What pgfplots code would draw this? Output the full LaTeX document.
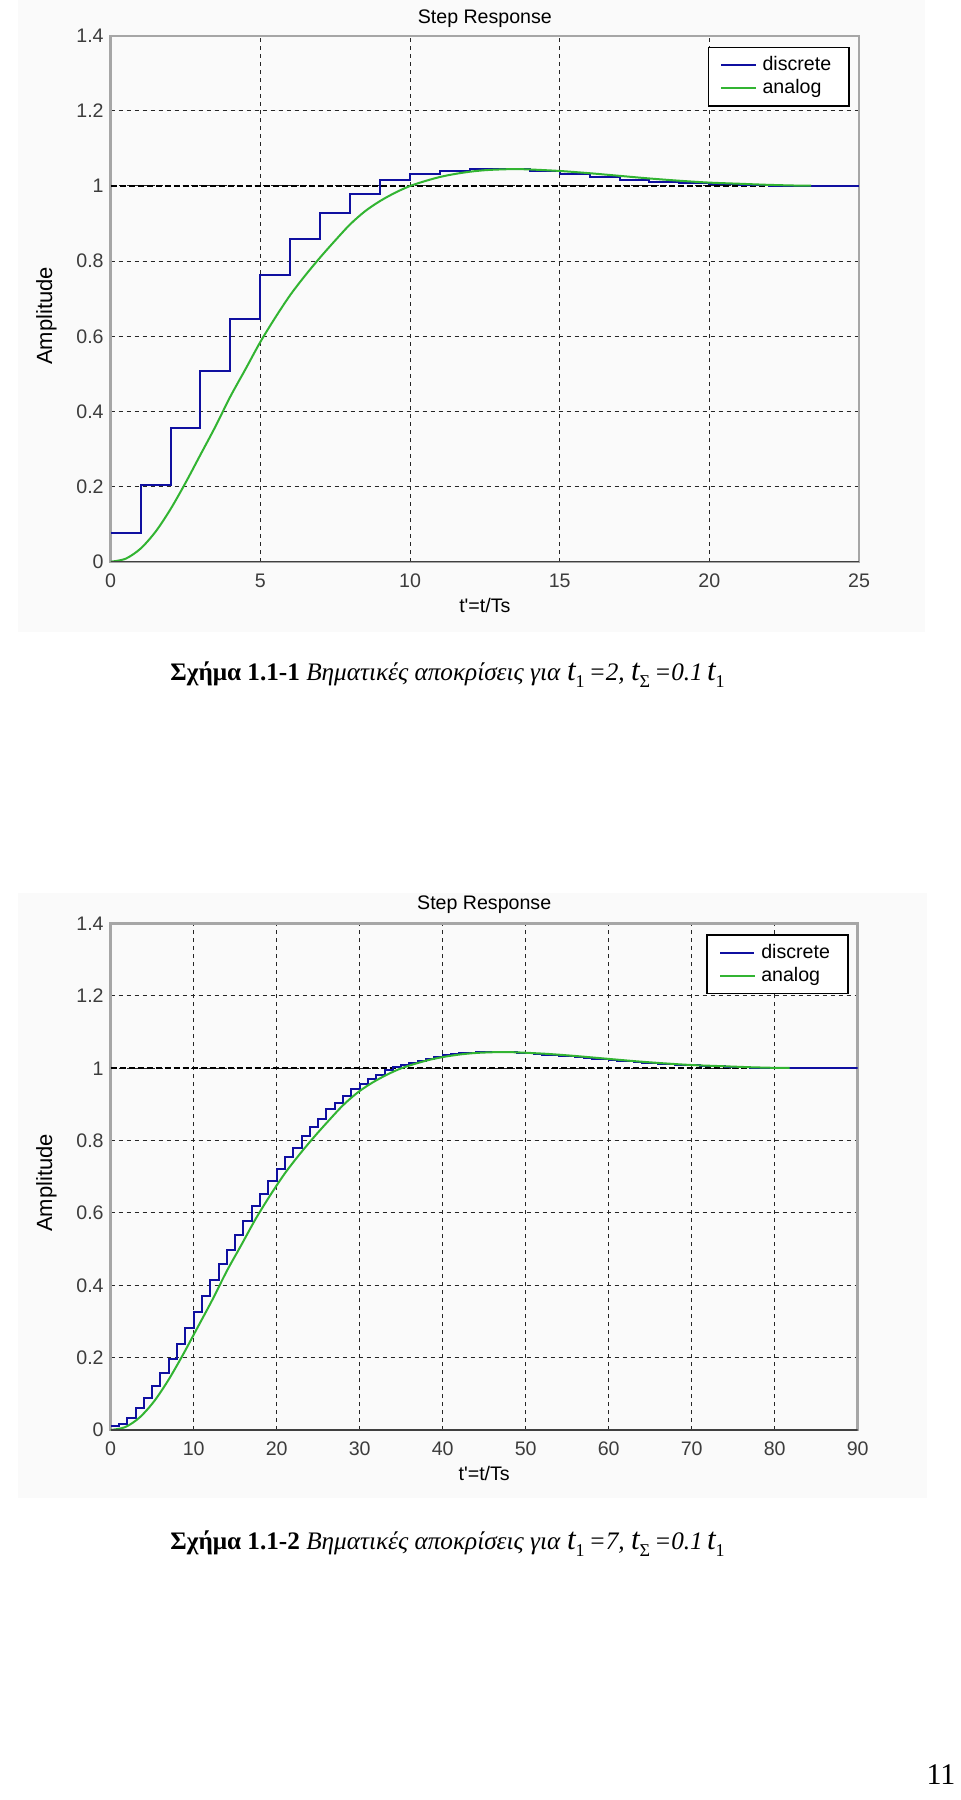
\documentclass[border=0pt]{standalone}
\usepackage{fontspec}
\setmainfont{Liberation Serif}
\newfontfamily\arial{Liberation Sans}
\usepackage{pgfplots}
\pgfplotsset{compat=1.18}
\definecolor{dblue}{RGB}{15,15,160}
\definecolor{agreen}{RGB}{50,180,50}
\definecolor{ticktext}{RGB}{60,60,60}
\newcommand{\tsub}[2]{{\fontsize{15.5}{16}\selectfont\itshape #1}\raisebox{-0.6ex}{\fontsize{9}{9}\selectfont #2}}
\pgfplotsset{
  stepstyle/.style={
    anchor=north west, scale only axis,
    font=\arial\fontsize{9.8}{11}\selectfont,
    every axis title shift=0pt,
    /pgf/number format/assume math mode=true,
    ymin=0, ymax=1.4, ytick={0,0.2,...,1.4},
    yticklabels={0,0.2,0.4,0.6,0.8,1,1.2,1.4},
    tick style={draw=none},
    ticklabel style={text=ticktext},
    xticklabel style={yshift=-2.5pt},
    grid=major,
    major grid style={black!85, line width=0.5pt, dash pattern=on 2pt off 2pt},
    axis line style={black!35, line width=1.2pt},
    xlabel={t'=t/Ts}, ylabel={Amplitude},
    ylabel style={font=\arial\fontsize{11}{12}\selectfont},
    legend style={at={(0.988,0.979)}, anchor=north east, draw=black, line width=0.8pt,
      font=\arial\fontsize{9.8}{11}\selectfont, row sep=-1pt, inner xsep=6pt, inner ysep=2.5pt,
      nodes={inner xsep=3pt}},
    legend cell align=left,
    legend image post style={line width=1pt},
  }
}
\begin{document}
\begin{tikzpicture}
\useasboundingbox (0,0) rectangle (480pt,-900pt);
\fill[black!2] (9pt,0pt) rectangle (462.5pt,-316pt);
\fill[black!2] (9pt,-446.5pt) rectangle (463.5pt,-749pt);
% ---------- top axis ----------
\begin{axis}[stepstyle,
  at={(55.35pt,-17.85pt)}, width=374.15pt, height=263pt,
  xmin=0, xmax=25, xtick={0,5,...,25},
  title={Step Response},
  title style={at={(axis description cs:0.5,1.032)}, anchor=center},
  xlabel style={at={(axis description cs:0.5,-0.083)}, anchor=center},
  ylabel style={at={(axis description cs:-0.086,0.467)}, anchor=center},
]
\addplot[forget plot, black, line width=1pt, dash pattern=on 3pt off 1.5pt] coordinates {(0,1) (25,1)};
\addplot[const plot, dblue, line width=1pt] coordinates {
(0,0.077) (1,0.203) (2,0.355) (3,0.508) (4,0.646) (5,0.763) (6,0.858) (7,0.927)
(8,0.979) (9,1.016) (10,1.033) (11,1.041) (12,1.045) (13,1.044) (14,1.040)
(15,1.033) (16,1.024) (17,1.015) (18,1.010) (19,1.007) (20,1.005) (21,1.003)
(22,1.000) (23,1.000) (24,1.000) (25,1.000)};
\addlegendentry{discrete}
\addplot[smooth, agreen, line width=1pt] coordinates {
(0,0) (0.5,0.008) (1,0.035) (1.5,0.08) (2,0.14) (2.5,0.21) (3,0.285) (3.5,0.36)
(4,0.44) (4.5,0.512) (5,0.585) (5.5,0.65) (6,0.71) (6.5,0.762) (7,0.81) (7.5,0.855)
(8,0.898) (8.5,0.933) (9,0.96) (9.5,0.982) (10,1.0) (10.5,1.013) (11,1.024)
(11.5,1.032) (12,1.038) (12.5,1.042) (13,1.044) (13.5,1.045) (14,1.044) (15,1.04)
(16,1.034) (17,1.027) (18,1.02) (19,1.014) (20,1.009) (21,1.006) (22,1.003)
(23,1.001) (23.4,1.001)};
\addlegendentry{analog}
\draw[black!75, line width=1.2pt] (rel axis cs:0,0) -- (rel axis cs:1,0);
\end{axis}
\node[anchor=west, inner sep=0pt] at (85pt,-337.5pt)
  {\fontsize{12.6}{14}\selectfont\textbf{Σχήμα 1.1-1} \textit{Βηματικές αποκρίσεις για} \tsub{t}{1}\,\textit{=2,}\ \tsub{t}{Σ}\,\textit{=0.1}\,\tsub{t}{1}};
% ---------- bottom axis ----------
\begin{axis}[stepstyle,
  at={(55.35pt,-461.8pt)}, width=373.5pt, height=253.2pt,
  xmin=0, xmax=90, xtick={0,10,...,90},
  title={Step Response},
  title style={at={(axis description cs:0.5,1.037)}, anchor=center},
  xlabel style={at={(axis description cs:0.5,-0.085)}, anchor=center},
  ylabel style={at={(axis description cs:-0.086,0.488)}, anchor=center},
]
\addplot[forget plot, black, line width=1pt, dash pattern=on 3pt off 1.5pt] coordinates {(0,1) (90,1)};
\addplot[const plot, dblue, line width=1pt] coordinates {
(0,0.011) (1,0.018) (2,0.034) (3,0.062) (4,0.089) (5,0.122) (6,0.159) (7,0.196)
(8,0.238) (9,0.283) (10,0.325) (11,0.370) (12,0.415) (13,0.458) (14,0.498)
(15,0.538) (16,0.578) (17,0.618) (18,0.653) (19,0.689) (20,0.722) (21,0.756)
(22,0.781) (23,0.813) (24,0.837) (25,0.861) (26,0.887) (27,0.905) (28,0.923)
(29,0.943) (30,0.957) (31,0.970) (32,0.982) (33,0.994) (34,1.003) (35,1.009)
(36,1.016) (37,1.021) (38,1.027) (39,1.032) (40,1.036) (41,1.039) (42,1.041)
(43,1.043) (44,1.044) (45,1.045) (46,1.045) (47,1.044) (48,1.044) (49,1.042)
(50,1.041) (51,1.040) (52,1.038) (53,1.037) (54,1.035) (55,1.033) (56,1.031)
(57,1.029) (58,1.027) (59,1.025) (60,1.023) (61,1.021) (62,1.019) (63,1.017)
(64,1.016) (65,1.014) (66,1.013) (67,1.011) (68,1.010) (69,1.009) (70,1.008)
(71,1.007) (72,1.006) (73,1.005) (74,1.004) (75,1.003) (76,1.003) (77,1.002)
(78,1.002) (79,1.001) (80,1.001) (81,1.000) (90,1.000)};
\addlegendentry{discrete}
\addplot[smooth, agreen, line width=1pt] coordinates {
(0,0) (1.75,0.008) (3.5,0.035) (5.25,0.08) (7,0.14) (8.75,0.21) (10.5,0.285)
(12.25,0.36) (14,0.44) (15.75,0.512) (17.5,0.585) (19.25,0.65) (21,0.71)
(22.75,0.762) (24.5,0.81) (26.25,0.855) (28,0.898) (29.75,0.933) (31.5,0.96)
(33.25,0.982) (35,1.0) (36.75,1.013) (38.5,1.024) (40.25,1.032) (42,1.038)
(43.75,1.042) (45.5,1.044) (47.25,1.045) (49,1.044) (52.5,1.04) (56,1.034)
(59.5,1.027) (63,1.02) (66.5,1.014) (70,1.009) (73.5,1.006) (77,1.003)
(80.5,1.001) (81.8,1.001)};
\addlegendentry{analog}
\draw[black!75, line width=1.2pt] (rel axis cs:0,0) -- (rel axis cs:1,0);
\end{axis}
\node[anchor=west, inner sep=0pt] at (85pt,-772pt)
  {\fontsize{12.6}{14}\selectfont\textbf{Σχήμα 1.1-2} \textit{Βηματικές αποκρίσεις για} \tsub{t}{1}\,\textit{=7,}\ \tsub{t}{Σ}\,\textit{=0.1}\,\tsub{t}{1}};
\node[inner sep=0pt] at (470.5pt,-887.5pt) {\fontsize{15}{15}\selectfont 11};
\end{tikzpicture}
\end{document}
